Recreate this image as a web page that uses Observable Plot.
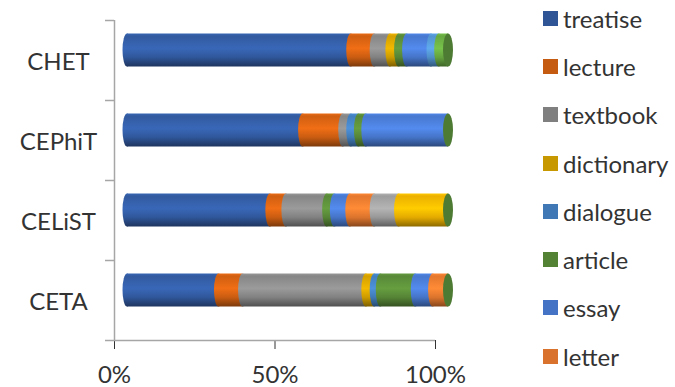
<!DOCTYPE html>
<html>
<head>
<meta charset="utf-8">
<script src="https://cdn.jsdelivr.net/npm/d3@7"></script>
<script src="https://cdn.jsdelivr.net/npm/@observablehq/plot@0.6"></script>
<style>
  html, body { margin: 0; padding: 0; background: #fff; }
  #wrap { position: relative; width: 675px; height: 387px; overflow: hidden; font-family: Lato, "Open Sans", sans-serif; }
  #wrap svg { position: absolute; left: 0; top: 0; }
  #legend { position: absolute; left: 543px; top: -6px; font-size: 24px; color: #333; }
  #legend .item { height: 48.3px; display: flex; align-items: center; white-space: nowrap; }
  #legend .sw { width: 15px; height: 15px; margin-right: 5px; flex: none; }
</style>
</head>
<body>
<div id="wrap"><div id="legend"></div></div>
<script>
// Categories (top to bottom)
const categories = ["CHET", "CEPhiT", "CELiST", "CETA"];

// Series (stack order) and values (% of each corpus)
const seriesNames = ["treatise", "lecture", "textbook", "dictionary", "dialogue", "article", "essay", "letter",
                     "genre 9", "genre 10", "genre 11", "genre 12"];
const legendNames = ["treatise", "lecture", "textbook", "dictionary", "dialogue", "article", "essay", "letter"];
const seriesColors = ["#2F5597", "#C55A11", "#7F7F7F", "#C89800", "#3F78B4", "#548235", "#4472C4", "#D8722C",
                      "#959595", "#E0A800", "#4E8CC4", "#62A03E"];

//                   CHET  CEPhiT CELiST CETA
const treatise   = [69.7, 54.7, 44.5, 28.5];
const lecture    = [ 7.3, 12.5,  5.0,  7.5];
const textbook   = [ 4.9,  2.5, 12.7, 38.4];
const dictionary = [ 2.7,  0,    0,    2.6];
const dialogue   = [ 0,    2.4,  0,    1.9];
const article    = [ 2.5,  2.3,  2.4, 10.9];
const essay      = [ 7.6, 25.6,  4.8,  5.4];
const letter     = [ 0,    0,    7.6,  4.8];
const genre9     = [ 0,    0,    7.6,  0  ];
const genre10    = [ 0,    0,   15.4,  0  ];
const genre11    = [ 2.4,  0,    0,    0  ];
const genre12    = [ 2.9,  0,    0,    0  ];
const seriesValues = [treatise, lecture, textbook, dictionary, dialogue, article, essay, letter,
                      genre9, genre10, genre11, genre12];

const capColor = "#4E7B34";
const tickLabels = [0, 0.5, 1];

// Build normalized stacked segments
const segs = [];
categories.forEach((cat, ci) => {
  const total = d3.sum(seriesValues, s => s[ci]);
  let acc = 0;
  seriesValues.forEach((s, si) => {
    const v = s[ci];
    if (v > 0) {
      segs.push({cat, series: seriesNames[si], idx: si, start: acc / total, end: (acc + v) / total});
    }
    acc += v;
  });
});

const barOpts = {y: "cat", dx: 13, dy: -10, insetTop: 23.5, insetBottom: 23.5};
const gridColor = "#a6a6a6";

const chart = Plot.plot({
  width: 675,
  height: 387,
  marginLeft: 114,
  marginRight: 240,
  marginTop: 20,
  marginBottom: 47,
  x: {domain: [0, 1], ticks: tickLabels, tickFormat: d3.format(".0%"), tickSize: 9, tickPadding: 16, label: null, line: false},
  y: {domain: categories, padding: 0, axis: null},
  color: {type: "identity"},
  style: {fontFamily: "Lato, 'Open Sans', sans-serif", fontSize: "24px", color: "#333", background: "transparent"},
  marks: [
    // axes lines and ticks
    Plot.ruleX([0], {stroke: gridColor, strokeWidth: 1.5}),
    Plot.ruleY(categories, {y: d => d, x1: -0.028, x2: 0, dy: -40, stroke: gridColor, strokeWidth: 1.5}),
    Plot.ruleY([categories[categories.length - 1]], {y: d => d, x1: -0.028, x2: 1, dy: 40, stroke: gridColor, strokeWidth: 1.5}),
    Plot.text(categories, {y: d => d, frameAnchor: "left", dx: -56, dy: 2, textAnchor: "middle", fill: "#333", fontSize: 24}),
    // cylinder bodies
    Plot.barX(segs, {...barOpts, x1: "start", x2: "end", fill: d => `url(#g${d.idx})`}),
    // curved segment fronts
    Plot.barX(segs, {...barOpts, x1: "start", x2: "start", fill: d => `url(#g${d.idx})`,
                     insetLeft: -4.5, insetRight: -4.5, rx: 4.5, ry: 16.5}),
    // end caps
    Plot.barX(categories, {...barOpts, y: d => d, x1: 1, x2: 1, fill: capColor,
                     insetLeft: -5, insetRight: -5, rx: 5, ry: 16.5})
  ]
});

// gradients for the cylinder shading
const svg = d3.select(chart);
const defs = svg.insert("defs", ":first-child");
seriesColors.forEach((c, i) => {
  const base = d3.color(c);
  const g = defs.append("linearGradient").attr("id", `g${i}`)
    .attr("x1", 0).attr("y1", 0).attr("x2", 0).attr("y2", 1);
  [[0, base.brighter(0.5)], [0.08, base.brighter(0.15)], [0.45, base.brighter(0.55)],
   [0.72, base.brighter(0.05)], [1, base.darker(1.3)]].forEach(([o, col]) => {
    g.append("stop").attr("offset", o).attr("stop-color", col.formatHex());
  });
});
// grey tick marks on the x axis
svg.selectAll('[aria-label="x-axis"] line').attr("stroke", gridColor).attr("stroke-width", 1.5);
svg.selectAll('[aria-label="x-axis"] text').attr("fill", "#333");

document.getElementById("wrap").prepend(chart);

// legend
const legend = d3.select("#legend");
legendNames.forEach((name) => {
  const i = seriesNames.indexOf(name);
  const item = legend.append("div").attr("class", "item");
  item.append("div").attr("class", "sw").style("background", seriesColors[i]);
  item.append("span").text(name);
});
</script>
</body>
</html>
